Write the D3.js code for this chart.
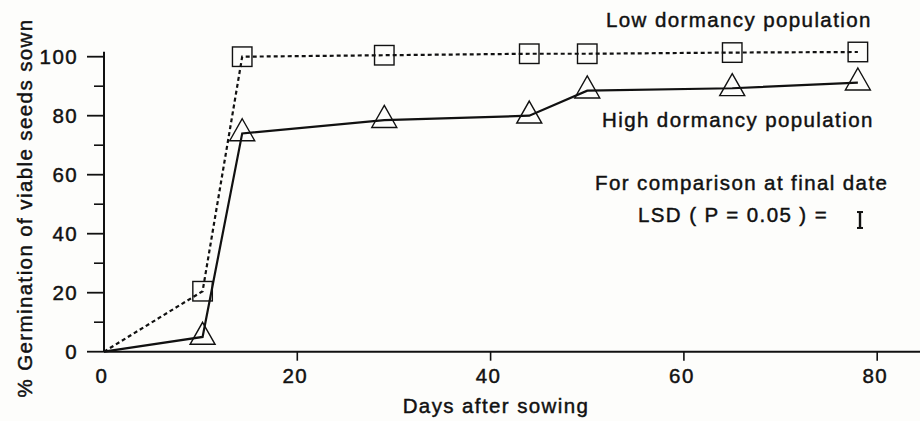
<!DOCTYPE html>
<html>
<head>
<meta charset="utf-8">
<script src="https://cdn.jsdelivr.net/npm/d3@7"></script>
<style>
  html, body { margin: 0; padding: 0; background: #fdfdfb; }
  svg { display: block; }
  text { font-family: "Liberation Sans", Arial, sans-serif; fill: #111; stroke: #111; stroke-width: 0.45px; letter-spacing: 1.4px; }
</style>
</head>
<body>
<svg id="chart" width="920" height="421"></svg>
<script>
// ---- data ----
const days = [0, 10.2, 14.3, 29, 44, 50, 65, 78];
const lowDormancy = [0, 20.5, 100, 100.5, 101, 101, 101.4, 101.6];
const highDormancy = [0, 5, 74, 78.5, 80, 88.5, 89.3, 91.2];
const xTicks = [0, 20, 40, 60, 80];
const yMajorTicks = [0, 20, 40, 60, 80, 100];
const yMinorTicks = [10, 30, 50, 70, 90];
const lsdValue = 5.4;
const labels = {
  low: "Low dormancy population",
  high: "High dormancy population",
  compare: "For comparison at final date",
  lsd: "LSD ( P = 0.05 ) =",
  xTitle: "Days after sowing",
  yTitle: "% Germination of viable seeds sown"
};

// ---- scales ----
const svg = d3.select("#chart");
const x = d3.scaleLinear().domain([0, 85]).range([104, 104 + 85 * 9.665]);
const y = d3.scaleLinear().domain([0, 100]).range([351.7, 56.7]);
const ink = "#111";
const fs = 20.5;

// x axis
const gx = svg.append("g").attr("transform", `translate(0,${y(0)})`);
gx.append("line").attr("x1", x(0)).attr("x2", 930).attr("stroke", ink).attr("stroke-width", 2);
gx.selectAll("line.t").data(xTicks.filter(d => d > 0)).join("line")
  .attr("class", "t").attr("x1", d => x(d)).attr("x2", d => x(d))
  .attr("y1", 0).attr("y2", 9).attr("stroke", ink).attr("stroke-width", 1.6);
gx.selectAll("text").data(xTicks).join("text")
  .attr("x", d => x(d) - 2).attr("y", 31).attr("text-anchor", "middle")
  .attr("font-size", fs).text(d => d);

// y axis
const gy = svg.append("g").attr("transform", `translate(${x(0)},0)`);
gy.append("line").attr("y1", y(0)).attr("y2", y(101.7)).attr("stroke", ink).attr("stroke-width", 2);
gy.selectAll("line.maj").data(yMajorTicks).join("line")
  .attr("class", "maj").attr("x1", -17).attr("x2", 0)
  .attr("y1", d => y(d)).attr("y2", d => y(d)).attr("stroke", ink).attr("stroke-width", 1.8);
gy.selectAll("line.min").data(yMinorTicks).join("line")
  .attr("class", "min").attr("x1", -10).attr("x2", 0)
  .attr("y1", d => y(d)).attr("y2", d => y(d)).attr("stroke", ink).attr("stroke-width", 1.6);
gy.selectAll("text").data(yMajorTicks).join("text")
  .attr("x", -26).attr("y", d => y(d) + 7.5).attr("text-anchor", "end")
  .attr("font-size", fs).text(d => d);

// axis titles
svg.append("text").attr("x", 496).attr("y", 413).attr("text-anchor", "middle")
  .attr("font-size", fs).text(labels.xTitle);
svg.append("text").attr("transform", "translate(32,208) rotate(-90)")
  .attr("text-anchor", "middle").attr("font-size", fs).text(labels.yTitle);

// lines
const line = d3.line().x(d => x(d[0])).y(d => y(d[1]));
const lowPts = days.map((d, i) => [d, lowDormancy[i]]);
const highPts = days.map((d, i) => [d, highDormancy[i]]);

svg.append("path").datum(lowPts).attr("d", line).attr("fill", "none")
  .attr("stroke", ink).attr("stroke-width", 2.2).attr("stroke-dasharray", "4,3");
svg.append("path").datum(highPts).attr("d", line).attr("fill", "none")
  .attr("stroke", ink).attr("stroke-width", 2.2);

// markers
const sq = 19.5;
svg.selectAll("rect.m").data(lowPts.slice(1)).join("rect")
  .attr("class", "m")
  .attr("x", d => x(d[0]) - sq / 2).attr("y", d => y(d[1]) - sq / 2)
  .attr("width", sq).attr("height", sq)
  .attr("fill", "none").attr("stroke", ink).attr("stroke-width", 1.4);
const tw = 25, th = 22;
svg.selectAll("path.tri").data(highPts.slice(1)).join("path")
  .attr("class", "tri")
  .attr("d", d => {
    const cx = x(d[0]), cy = y(d[1]);
    return `M${cx},${cy - th * 2 / 3}L${cx + tw / 2},${cy + th / 3}L${cx - tw / 2},${cy + th / 3}Z`;
  })
  .attr("fill", "none").attr("stroke", ink).attr("stroke-width", 1.4);

// annotations
svg.append("text").attr("x", 606).attr("y", 27).attr("font-size", fs).text(labels.low);
svg.append("text").attr("x", 602).attr("y", 127).attr("font-size", fs).text(labels.high);
svg.append("text").attr("x", 595).attr("y", 190).attr("font-size", fs).text(labels.compare);
svg.append("text").attr("x", 638).attr("y", 222).attr("font-size", fs).text(labels.lsd);

// LSD bar
const lsdLen = y(0) - y(lsdValue);
const lsdX = 860, lsdMid = 220;
const lsd = svg.append("g").attr("stroke", ink);
lsd.append("line").attr("x1", lsdX).attr("x2", lsdX)
  .attr("y1", lsdMid - lsdLen / 2).attr("y2", lsdMid + lsdLen / 2).attr("stroke-width", 2.4);
lsd.selectAll("line.cap").data([-1, 1]).join("line").attr("class", "cap")
  .attr("x1", lsdX - 3).attr("x2", lsdX + 3)
  .attr("y1", s => lsdMid + s * lsdLen / 2).attr("y2", s => lsdMid + s * lsdLen / 2)
  .attr("stroke-width", 2);
</script>
</body>
</html>
